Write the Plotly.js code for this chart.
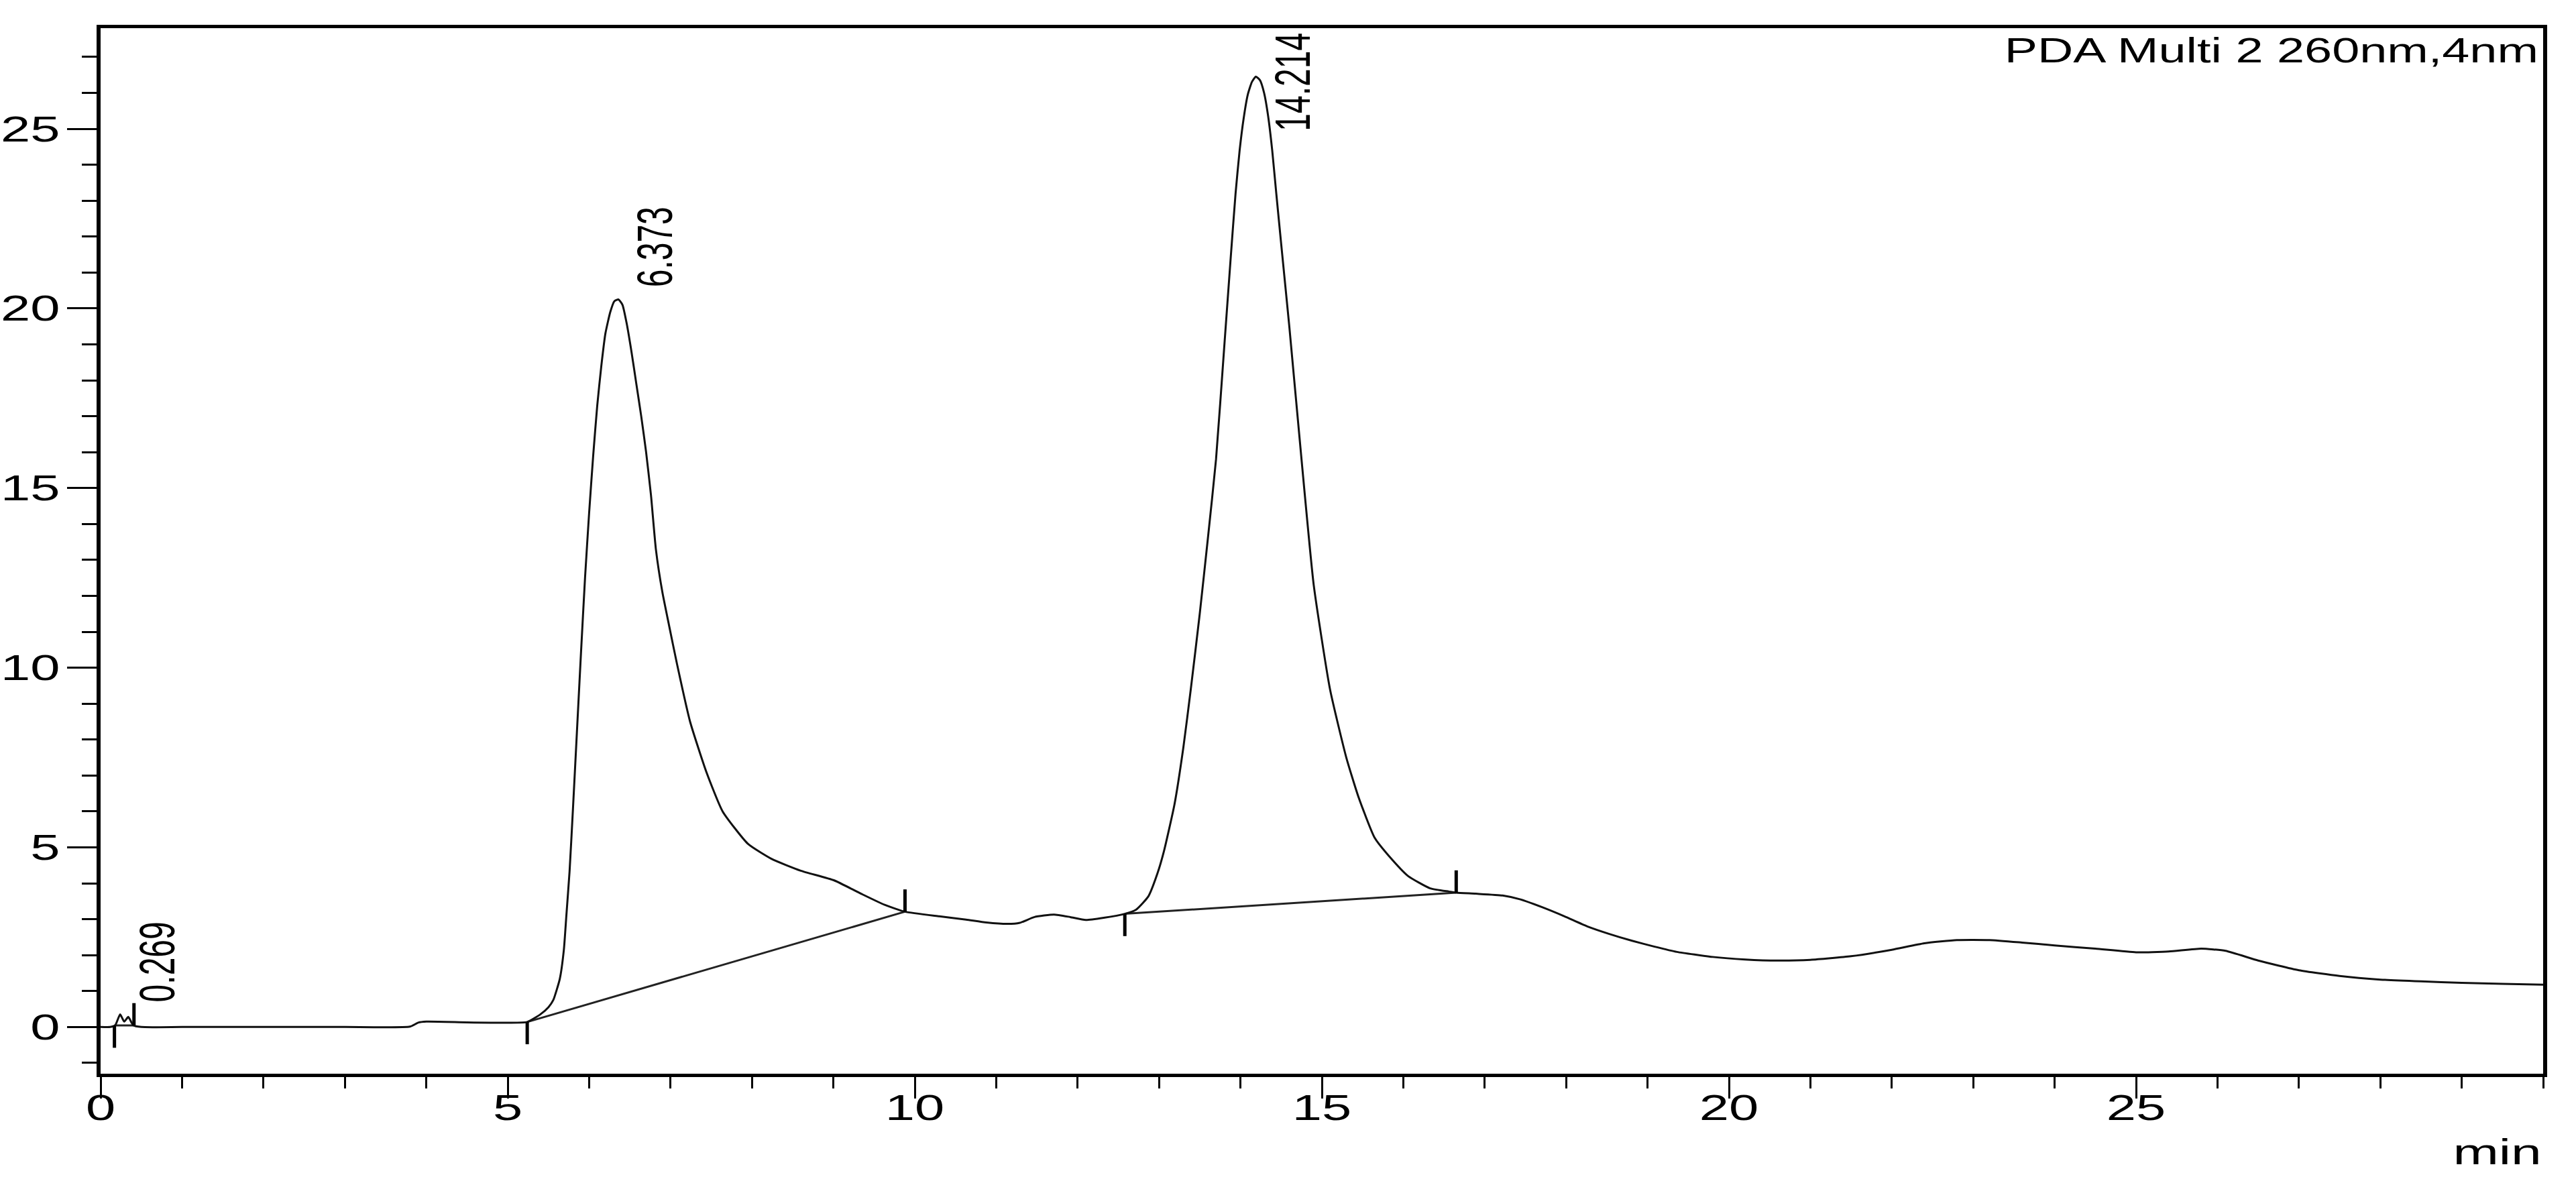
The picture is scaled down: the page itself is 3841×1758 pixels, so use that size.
<!DOCTYPE html>
<html>
<head>
<meta charset="utf-8">
<script src="https://cdn.plot.ly/plotly-3.0.1.min.js"></script>
<style>
  body { margin: 0; background: #fff; }
  #chrom { width: 3841px; height: 1758px; }
</style>
</head>
<body>
<div id="chrom"></div>
<script>
// chromatogram (min, mAU)
var time = [0.00, 0.12, 0.18, 0.24, 0.29, 0.34, 0.40, 0.50, 1.00, 2.00, 3.00, 3.80, 3.90, 4.00, 4.50, 5.00,
  5.24, 5.40, 5.50, 5.56, 5.64, 5.69, 5.72, 5.76, 5.80, 5.85, 5.90, 5.95, 6.00, 6.05, 6.10, 6.15, 6.20, 6.26,
  6.31, 6.36, 6.41, 6.46, 6.52, 6.58, 6.64, 6.70, 6.76, 6.82, 6.90, 6.98, 7.08, 7.24, 7.44, 7.64, 7.95, 8.24,
  8.60, 9.01, 9.34, 9.63, 9.88, 10.30, 10.63, 10.88, 11.14, 11.29, 11.47, 11.71, 11.91, 12.10, 12.32, 12.58,
  12.72, 12.87, 12.98, 13.06, 13.19, 13.30, 13.39, 13.50, 13.60, 13.70, 13.80, 13.88, 13.94, 13.99, 14.04,
  14.09, 14.14, 14.19, 14.24, 14.29, 14.34, 14.39, 14.44, 14.50, 14.60, 14.75, 14.90, 15.10, 15.30, 15.45,
  15.65, 15.87, 16.06, 16.33, 16.56, 16.65, 16.89, 17.22, 17.44, 17.71, 17.98, 18.26, 18.53, 18.81, 19.08,
  19.36, 19.80, 20.20, 20.60, 21.00, 21.50, 22.00, 22.40, 22.80, 23.20, 23.60, 24.00, 24.50, 25.00, 25.40,
  25.80, 26.10, 26.50, 27.00, 27.50, 28.00, 28.50, 29.00, 29.50, 30.00];
var signal = [0.00, 0.00, 0.05, 0.35, 0.15, 0.28, 0.05, 0.00, 0.00, 0.00, 0.00, 0.01, 0.12, 0.15, 0.13, 0.12,
  0.14, 0.35, 0.55, 0.75, 1.34, 2.15, 3.08, 4.33, 6.0, 8.2, 10.4, 12.5, 14.3, 15.9, 17.3, 18.4, 19.3, 19.9,
  20.2, 20.25, 20.1, 19.6, 18.8, 17.9, 17.0, 16.0, 14.8, 13.3, 12.1, 11.2, 10.1, 8.5, 7.1, 6.0, 5.1, 4.68,
  4.35, 4.08, 3.71, 3.40, 3.21, 3.08, 2.99, 2.91, 2.87, 2.90, 3.06, 3.13, 3.06, 2.98, 3.04, 3.15,
  3.27, 3.64, 4.27, 4.89, 6.2, 7.8, 9.4, 11.5, 13.6, 15.8, 18.9, 21.4, 23.2, 24.4, 25.3,
  25.95, 26.3, 26.45, 26.35, 26.0, 25.35, 24.4, 23.2, 21.8, 19.5, 15.8, 12.3, 9.4, 7.5, 6.4,
  5.26, 4.64, 4.20, 3.86, 3.77, 3.74, 3.71, 3.66, 3.55, 3.33, 3.08, 2.80, 2.59, 2.40, 2.24,
  2.09, 1.95, 1.88, 1.85, 1.87, 1.97, 2.15, 2.33, 2.42, 2.42, 2.35, 2.27, 2.18, 2.08, 2.10,
  2.18, 2.12, 1.85, 1.58, 1.42, 1.32, 1.27, 1.23, 1.20, 1.18];

// integration events
var peakTimes = [0.269, 6.373, 14.214];
var peakStart = [0.17, 5.24, 12.58];
var peakEnd = [0.41, 9.88, 16.65];

var xTicks = [0, 5, 10, 15, 20, 25];
var yTicks = [0, 5, 10, 15, 20, 25];
var detector = "PDA Multi 2 260nm,4nm";
var xUnit = "min";

function interp(t) {
  for (var i = 1; i < time.length; i++) {
    if (time[i] >= t) {
      var f = (t - time[i-1]) / (time[i] - time[i-1]);
      return signal[i-1] + f * (signal[i] - signal[i-1]);
    }
  }
  return signal[signal.length-1];
}

function apex(t) {
  var m = interp(t);
  for (var i = 0; i < time.length; i++) {
    if (Math.abs(time[i] - t) < 0.2 && signal[i] > m) m = signal[i];
  }
  return m;
}

var tickLen = 0.62;
var bx = [], by = [], mx = [], my = [];
for (var i = 0; i < peakStart.length; i++) {
  var s = peakStart[i], e = peakEnd[i];
  bx.push(s, e, null);
  by.push(interp(s), interp(e), null);
  mx.push(s, s, null, e, e, null);
  my.push(interp(s), interp(s) - tickLen, null, interp(e), interp(e) + tickLen, null);
}

var font = "Liberation Sans, Arial, sans-serif";

var trace = {
  x: time, y: signal, mode: 'lines', type: 'scatter',
  line: {color: '#111', width: 3, shape: 'spline', smoothing: 0.5},
  hoverinfo: 'skip'
};
var baseline = {
  x: bx, y: by, mode: 'lines', type: 'scatter',
  line: {color: '#222', width: 3}, hoverinfo: 'skip'
};
var marks = {
  x: mx, y: my, mode: 'lines', type: 'scatter',
  line: {color: '#000', width: 5}, hoverinfo: 'skip'
};

var annotations = [
  {xref: 'paper', yref: 'paper', x: 1, y: 1, xanchor: 'right', yanchor: 'top',
   text: detector, showarrow: false, xshift: -4, yshift: -2,
   font: {family: font, size: 52, color: '#000'}},
  {xref: 'paper', yref: 'paper', x: 1, y: -0.075, xanchor: 'right', yanchor: 'middle',
   text: xUnit, showarrow: false, font: {family: font, size: 53, color: '#000'}}
];
for (var j = 0; j < peakTimes.length; j++) {
  annotations.push({
    xref: 'x', yref: 'y', x: peakTimes[j] + 0.43, y: Math.min(apex(peakTimes[j]) + 0.3, 24.9),
    xanchor: 'center', yanchor: 'bottom', textangle: -90, showarrow: false,
    text: peakTimes[j].toFixed(3), font: {family: font, size: 48, color: '#000'}
  });
}

var layout = {
  width: 3841, height: 1758,
  margin: {l: 150, r: 49, t: 42, b: 157},
  paper_bgcolor: '#fff', plot_bgcolor: '#fff',
  showlegend: false,
  xaxis: {
    range: [0, 30], tickvals: xTicks, ticktext: xTicks.map(String),
    ticks: 'outside', ticklen: 32, tickwidth: 3, tickcolor: '#000',
    showline: true, linewidth: 5, linecolor: '#000', mirror: true,
    showgrid: false, zeroline: false,
    tickfont: {family: font, size: 53, color: '#000'},
    minor: {dtick: 1, ticks: 'outside', ticklen: 17, tickwidth: 3, tickcolor: '#000', showgrid: false}
  },
  yaxis: {
    range: [-1.3, 27.8], tickvals: yTicks, ticktext: yTicks.map(String),
    ticks: 'outside', ticklen: 44, tickwidth: 3, tickcolor: '#000',
    showline: true, linewidth: 6, linecolor: '#000', mirror: true,
    showgrid: false, zeroline: false,
    tickfont: {family: font, size: 53, color: '#000'},
    minor: {dtick: 1, ticks: 'outside', ticklen: 22, tickwidth: 3, tickcolor: '#000', showgrid: false}
  },
  annotations: annotations
};

// the source picture is stretched sideways; widen the text to match
function widen(el, k, where, dy) {
  var b = el.getBBox();
  var ax = where === 'end' ? b.x + b.width : b.x + b.width / 2;
  el.setAttribute('transform', 'translate(0,' + (dy || 0) + ') translate(' + ax + ',0) scale(' + k + ',1) translate(' + (-ax) + ',0)');
}

Plotly.newPlot('chrom', [baseline, trace, marks], layout, {staticPlot: true}).then(function (gd) {
  gd.querySelectorAll('g.xtick').forEach(function (el) { widen(el, 1.5, 'mid', -32); });
  gd.querySelectorAll('g.ytick').forEach(function (el) { widen(el, 1.5, 'end'); });
  gd.querySelectorAll('g.annotation').forEach(function (el) {
    var idx = +el.getAttribute('data-index');
    if (idx === 0) widen(el, 1.42, 'end');
    else if (idx === 1) widen(el, 1.55, 'end');
    else widen(el, 1.55, 'mid');
  });
});
</script>
</body>
</html>
